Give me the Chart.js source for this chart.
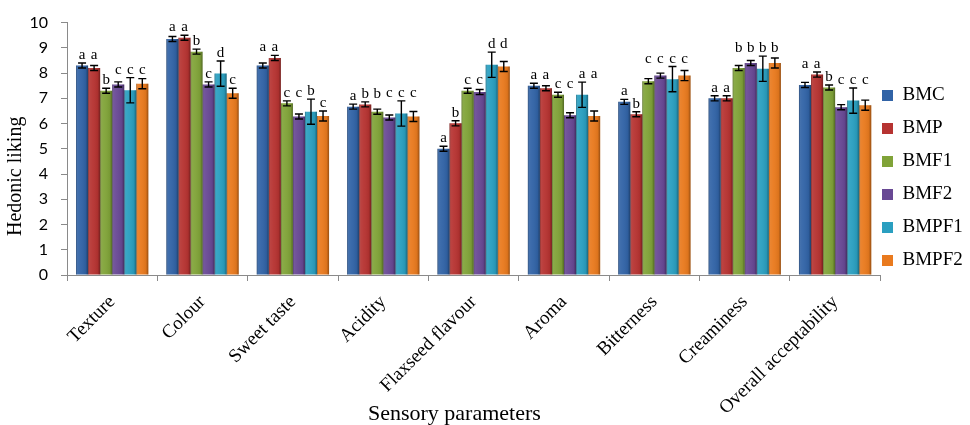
<!DOCTYPE html>
<html>
<head>
<meta charset="utf-8">
<script src="https://cdn.jsdelivr.net/npm/chart.js@4.4.1/dist/chart.umd.min.js"></script>
<style>
  html,body{margin:0;padding:0;background:#fff;}
  #wrap{width:970px;height:425px;}
</style>
</head>
<body>
<div id="wrap"><canvas id="sensoryChart" width="970" height="425"></canvas></div>
<script>
// categories / series
const categories = ['Texture','Colour','Sweet taste','Acidity','Flaxseed flavour','Aroma','Bitterness','Creaminess','Overall acceptability'];
const seriesNames = ['BMC','BMP','BMF1','BMF2','BMPF1','BMPF2'];

// mean hedonic scores
const bmc   = [8.30, 9.35, 8.30, 6.67, 5.00, 7.50, 6.86, 7.00, 7.53];
const bmp   = [8.20, 9.40, 8.60, 6.76, 6.01, 7.40, 6.37, 7.00, 7.94];
const bmf1  = [7.30, 8.85, 6.80, 6.47, 7.30, 7.14, 7.68, 8.20, 7.43];
const bmf2  = [7.55, 7.55, 6.28, 6.24, 7.25, 6.33, 7.90, 8.40, 6.65];
const bmpf1 = [7.32, 7.98, 6.47, 6.40, 8.33, 7.14, 7.76, 8.17, 6.91];
const bmpf2 = [7.58, 7.20, 6.30, 6.28, 8.26, 6.30, 7.90, 8.40, 6.73];

// error bars (+/-)
const errBmc   = [0.10, 0.10, 0.10, 0.10, 0.10, 0.10, 0.10, 0.10, 0.10];
const errBmp   = [0.10, 0.10, 0.10, 0.10, 0.10, 0.10, 0.10, 0.10, 0.10];
const errBmf1  = [0.10, 0.10, 0.10, 0.10, 0.10, 0.10, 0.10, 0.10, 0.10];
const errBmf2  = [0.10, 0.10, 0.10, 0.10, 0.10, 0.10, 0.10, 0.10, 0.10];
const errBmpf1 = [0.50, 0.50, 0.50, 0.50, 0.50, 0.50, 0.50, 0.50, 0.50];
const errBmpf2 = [0.20, 0.20, 0.20, 0.20, 0.20, 0.20, 0.20, 0.20, 0.20];

// significance letters
const letBmc   = ['a','a','a','a','a','a','a','a','a'];
const letBmp   = ['a','a','a','b','b','a','b','a','a'];
const letBmf1  = ['b','b','c','b','c','c','c','b','b'];
const letBmf2  = ['c','c','c','c','c','c','c','b','c'];
const letBmpf1 = ['c','d','b','c','d','a','c','b','c'];
const letBmpf2 = ['c','c','c','c','d','a','c','b','c'];

const yMin = 0, yMax = 10, yStep = 1;

const values  = [bmc, bmp, bmf1, bmf2, bmpf1, bmpf2];
const errors  = [errBmc, errBmp, errBmf1, errBmf2, errBmpf1, errBmpf2];
const letters = [letBmc, letBmp, letBmf1, letBmf2, letBmpf1, letBmpf2];
const colors  = ['#3163a6','#b63331','#80a338','#684894','#2a9fc0','#e97a1e'];

const SERIF = "'Liberation Serif','Times New Roman',serif";
const AXIS = '#8a8a8a';

// glossy shading + error bars + letters, drawn on top of the bars
const barDecor = {
  id: 'barDecor',
  afterDatasetsDraw(chart) {
    const ctx = chart.ctx, ys = chart.scales.y;
    ctx.save();
    chart.data.datasets.forEach((ds, di) => {
      chart.getDatasetMeta(di).data.forEach(bar => {
        const p = bar.getProps(['x','y','base','width'], true);
        const l = p.x - p.width / 2;
        const g = ctx.createLinearGradient(l, 0, l + p.width, 0);
        g.addColorStop(0, 'rgba(0,0,0,0.34)');
        g.addColorStop(0.14, 'rgba(255,255,255,0.08)');
        g.addColorStop(0.4, 'rgba(255,255,255,0.04)');
        g.addColorStop(0.8, 'rgba(0,0,0,0.06)');
        g.addColorStop(1, 'rgba(0,0,0,0.36)');
        ctx.fillStyle = g;
        ctx.fillRect(l, p.y, p.width, p.base - p.y);
      });
    });
    // error bars
    ctx.strokeStyle = '#000';
    ctx.lineWidth = 1.4;
    chart.data.datasets.forEach((ds, di) => {
      chart.getDatasetMeta(di).data.forEach((bar, i) => {
        const v = values[di][i], e = errors[di][i];
        const x = bar.x, y1 = ys.getPixelForValue(v + e), y2 = ys.getPixelForValue(v - e);
        ctx.beginPath();
        ctx.moveTo(x, y1); ctx.lineTo(x, y2);
        ctx.moveTo(x - 4, y1); ctx.lineTo(x + 4, y1);
        ctx.moveTo(x - 4, y2); ctx.lineTo(x + 4, y2);
        ctx.stroke();
      });
    });
    // letters: runs of the same letter share one row above the highest error cap
    ctx.fillStyle = '#000';
    ctx.font = '15px ' + SERIF;
    ctx.textAlign = 'center';
    ctx.textBaseline = 'alphabetic';
    categories.forEach((c, i) => {
      let j = 0;
      while (j < values.length) {
        let k = j, top = Infinity;
        while (k < values.length && letters[k][i] === letters[j][i]) {
          top = Math.min(top, ys.getPixelForValue(values[k][i] + errors[k][i]));
          k++;
        }
        for (let m = j; m < k; m++) {
          const bar = chart.getDatasetMeta(m).data[i];
          ctx.fillText(letters[m][i], bar.x, top - 4);
        }
        j = k;
      }
    });
    ctx.restore();
  }
};

// move the legend block next to the plot like in the figure
const legendSpot = {
  id: 'legendSpot',
  afterLayout(chart) {
    const lg = chart.legend;
    const w = lg.width, h = lg.height;
    lg.left = 868; lg.right = lg.left + w;
    lg.top = 72; lg.bottom = lg.top + h;
  }
};

new Chart(document.getElementById('sensoryChart').getContext('2d'), {
  type: 'bar',
  data: {
    labels: categories,
    datasets: seriesNames.map((n, i) => ({
      label: n, data: values[i], backgroundColor: colors[i], borderWidth: 0,
      categoryPercentage: 0.8, barPercentage: 1.0
    }))
  },
  options: {
    responsive: false,
    animation: false,
    devicePixelRatio: 1,
    layout: { padding: { top: 16, left: 0, right: -15, bottom: 0 } },
    plugins: {
      legend: {
        position: 'right', align: 'start',
        labels: { boxWidth: 11, boxHeight: 11, padding: 14, color: '#000', font: { family: SERIF, size: 19 } }
      },
      tooltip: { enabled: false }
    },
    scales: {
      x: {
        grid: { offset: true, drawOnChartArea: false, drawTicks: true, tickLength: 6, color: AXIS },
        border: { color: AXIS, width: 1 },
        ticks: { autoSkip: false, minRotation: 45, maxRotation: 45, padding: 10, color: '#000', font: { family: SERIF, size: 19 } },
        title: { display: true, text: 'Sensory parameters       ', color: '#000', font: { family: SERIF, size: 22 }, padding: { top: 0, bottom: -2 } },
        afterFit(s) { s.height = 150; }
      },
      y: {
        min: yMin, max: yMax,
        grid: { drawOnChartArea: false, drawTicks: true, tickLength: 6, color: AXIS },
        border: { color: AXIS, width: 1 },
        ticks: { stepSize: yStep, padding: 13, color: '#000', font: { family: 'Lato', size: 16 } },
        title: { display: true, text: 'Hedonic liking           ', color: '#000', font: { family: SERIF, size: 20 }, padding: { top: 4, bottom: 4 } },
        afterFit(s) { s.width = 67; }
      }
    }
  },
  plugins: [legendSpot, barDecor]
});
</script>
</body>
</html>
